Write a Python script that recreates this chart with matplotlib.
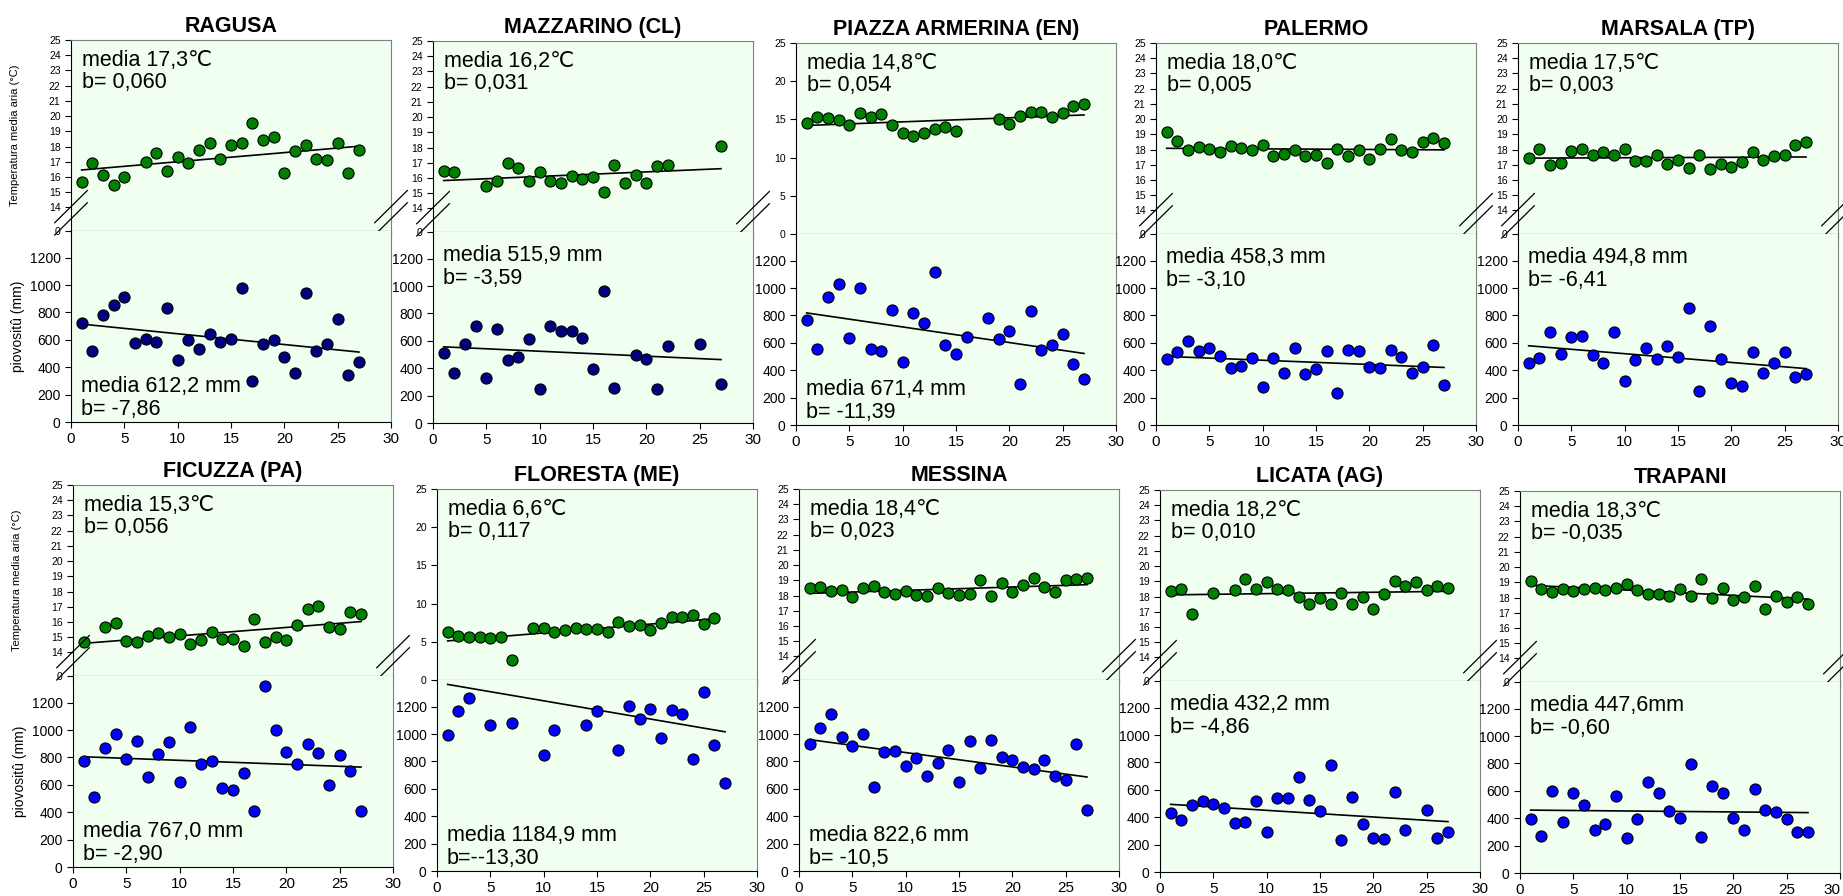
import numpy as np
import matplotlib.pyplot as plt

plt.rcParams['font.family'] = ['Liberation Sans', 'DejaVu Sans']

N = None
anni = list(range(1, 28))

stazioni = ['RAGUSA', 'MAZZARINO (CL)', 'PIAZZA ARMERINA (EN)', 'PALERMO', 'MARSALA (TP)',
            'FICUZZA (PA)', 'FLORESTA (ME)', 'MESSINA', 'LICATA (AG)', 'TRAPANI']

# temperatura media annua (°C)
t_ragusa = [15.7, 16.9, 16.15, 15.5, 16.0, N, 17.0, 17.55, 16.4, 17.3, 16.9, 17.8, 18.2, 17.2, 18.1,
            18.2, 19.55, 18.45, 18.6, 16.25, 17.7, 18.1, 17.2, 17.1, 18.25, 16.25, 17.75]
t_mazzarino = [16.44, 16.38, N, N, 15.44, 15.83, 17.0, 16.64, 15.83, 16.38, 15.83, 15.66, 16.14, 15.94,
               16.05, 15.07, 16.88, 15.68, 16.18, 15.68, 16.77, 16.88, N, N, N, N, 18.13]
t_piazza = [14.55, 15.37, 15.24, 14.9, 14.24, 15.85, 15.33, 15.72, 14.29, 13.28, 12.8, 13.28, 13.72, 14.07,
            13.5, N, N, N, 15.07, 14.37, 15.46, 15.98, 16.03, 15.29, 15.81, 16.77, 17.03]
t_palermo = [19.16, 18.59, 17.97, 18.15, 18.02, 17.87, 18.22, 18.13, 17.97, 18.33, 17.56, 17.71, 17.97, 17.6,
             17.62, 17.14, 18.02, 17.58, 17.97, 17.4, 18.06, 18.66, 17.97, 17.84, 18.52, 18.77, 18.46]
t_marsala = [17.45, 18.06, 16.99, 17.14, 17.89, 18.06, 17.62, 17.84, 17.62, 18.02, 17.23, 17.23, 17.62, 17.07,
             17.29, 16.81, 17.67, 16.75, 17.07, 16.86, 17.18, 17.84, 17.34, 17.58, 17.67, 18.33, 18.48]
t_ficuzza = [14.66, N, 15.7, 15.95, 14.73, 14.71, 15.11, 15.28, 15.02, 15.22, 14.58, 14.82, 15.33, 14.91,
             14.88, 14.4, 16.19, 14.69, 15.0, 14.82, 15.77, 16.85, 17.05, 15.64, 15.53, 16.63, 16.54]
t_floresta = [6.25, 5.81, 5.64, 5.64, 5.55, 5.64, 2.67, N, 6.77, 6.86, 6.29, 6.56, 6.77, 6.69, 6.64, 6.29,
              7.65, 7.12, 7.21, 6.6, 7.52, 8.3, 8.3, 8.52, 7.34, 8.13, N]
t_messina = [18.49, 18.54, 18.32, 18.36, 17.92, 18.49, 18.62, 18.23, 18.1, 18.32, 18.05, 17.99, 18.47, 18.14,
             18.05, 18.1, 19.02, 17.94, 18.8, 18.25, 18.69, 19.17, 18.56, 18.25, 19.0, 19.06, 19.17]
t_licata = [18.35, 18.5, 16.86, N, 18.24, N, 18.46, 19.17, 18.5, 18.95, 18.5, 18.46, 18.0, 17.51, 17.92,
            17.51, 18.24, 17.51, 18.0, 17.19, 18.15, 18.99, 18.67, 18.95, 18.46, 18.67, 18.58]
t_trapani = [19.06, 18.58, 18.34, 18.58, 18.4, 18.56, 18.65, 18.51, 18.65, 18.89, 18.49, 18.21, 18.21, 18.1,
             18.58, 18.1, 19.19, 17.97, 18.62, 17.84, 18.01, 18.78, 17.27, 18.1, 17.68, 18.05, 17.57]

# piovosita annua (mm)
p_ragusa = [722, 516, 778, 856, 916, 577, 608, 587, 829, 451, 596, 533, 642, 587, 608, 977, 298, 567, 599,
            478, 359, 940, 521, 572, 754, 342, 439]
p_mazzarino = [508, 367, 580, 709, 330, 687, 461, 481, 612, 250, 709, 675, 675, 619, 398, 964, 257, N, 495,
               469, 250, 563, N, N, 576, N, 284]
p_piazza = [767, 557, 936, 1029, 638, 1002, 552, 540, 843, 459, 819, 748, 1119, 587, 516, 643, N, 782, 628,
            687, 301, 833, 550, 582, 665, 447, 337]
p_palermo = [479, 531, 611, 543, 565, 504, 419, 431, 492, 280, 492, 382, 565, 370, 406, 540, 231, 548, 538,
             426, 414, 545, 499, 382, 426, 587, 292]
p_marsala = [455, 492, 677, 518, 643, 650, 511, 450, 682, 319, 475, 565, 484, 574, 494, 852, 246, 723, 479,
             307, 285, 531, 377, 453, 533, 348, 370]
p_ficuzza = [771, 512, 866, 971, 788, 922, 659, 822, 912, 620, 1022, 751, 776, 576, 563, 685, 410, 1320, 998,
             841, 749, 900, 832, 602, 817, 702, 410]
p_floresta = [993, 1171, 1263, N, 1064, N, 1083, N, N, 847, 1030, N, N, 1066, 1171, N, 881, 1202, 1112,
              1183, 971, 1173, 1144, 815, 1309, 922, 640]
p_messina = [925, 1042, 1149, 978, 910, 998, 616, 869, 874, 769, 823, 696, 789, 884, 652, 947, 752, 959, 830,
             811, 762, 745, 808, 696, 667, 930, 445]
p_licata = [431, 383, 487, 518, 499, 470, 357, 366, 521, 289, 537, 542, 696, 525, 443, 778, 236, 549, 352,
            248, 239, 586, 304, N, 453, 251, 289]
p_trapani = [396, 270, 598, 372, 581, 496, 313, 357, 561, 257, 398, 661, 581, 454, 401, 799, 260, 639, 581,
             403, 311, 617, 461, 445, 396, 301, 301]

temp = [t_ragusa, t_mazzarino, t_piazza, t_palermo, t_marsala,
        t_ficuzza, t_floresta, t_messina, t_licata, t_trapani]
piog = [p_ragusa, p_mazzarino, p_piazza, p_palermo, p_marsala,
        p_ficuzza, p_floresta, p_messina, p_licata, p_trapani]

# rette di tendenza: intercetta e pendenza
t_a = [16.40, 15.80, 14.15, 18.085, 17.43, 14.54, 5.0, 18.12, 18.10, 18.84]
t_b = [0.060, 0.030, 0.053, -0.004, 0.003, 0.055, 0.116, 0.022, 0.009, -0.035]
p_a = [723, 560, 830, 504, 585, 808, 1376, 970, 499, 460]
p_b = [-7.86, -3.59, -11.39, -3.10, -6.41, -2.90, -13.30, -10.5, -4.86, -0.70]

t_media = ['17,3', '16,2', '14,8', '18,0', '17,5', '15,3', '6,6', '18,4', '18,2', '18,3']
t_btxt = ['0,060', '0,031', '0,054', '0,005', '0,003', '0,056', '0,117', '0,023', '0,010', '-0,035']
p_media = ['612,2 mm', '515,9 mm', '671,4 mm', '458,3 mm', '494,8 mm',
           '767,0 mm', '1184,9 mm', '822,6 mm', '432,2 mm', '447,6mm']
p_btxt = [' -7,86', ' -3,59', ' -11,39', ' -3,10', ' -6,41', ' -2,90', '--13,30', ' -10,5', ' -4,86', ' -0,60']

# asse temperatura spezzato (14-25) oppure intero (0-25)
spezzato = [True, True, False, True, True, True, False, True, True, True]
# posizione testo piovosita: in alto o in basso
p_testo_alto = [False, True, False, True, True, False, False, False, True, True]

W, H = 1843, 896
PW, PH = 320, 191
pos = [(71, 40), (433, 41), (796, 43), (1156, 43), (1518, 43),
       (73, 485), (437, 489), (799, 489), (1160, 490), (1520, 491)]

fig = plt.figure(figsize=(W / 100, H / 100), dpi=100)

def stile(ax):
    ax.set_facecolor('#f0fff0')
    ax.spines['top'].set_color('#808080')
    ax.spines['right'].set_color('#808080')
    ax.tick_params(direction='out', length=4, width=0.8)
    ax.set_xlim(0, 30)
    ax.set_xticks(range(0, 31, 5))

def segni_rottura(ax):
    kw = dict(transform=ax.transAxes, color='black', lw=0.9, clip_on=False, zorder=6)
    for xc in (0, 1):
        for dy in (0.0, 0.064):
            ax.plot([xc - 0.051, xc + 0.051], [-0.021 + dy, 0.148 + dy], **kw)

def tendenza(ax, x, y, a, b):
    ok = [xi for xi, yi in zip(x, y) if yi is not None]
    xs = np.array([min(ok), max(ok)])
    ax.plot(xs, a + b * xs, color='black', lw=1.2, zorder=2)

def punti(ax, x, y, colore):
    xx = [xi for xi, yi in zip(x, y) if yi is not None]
    yy = [yi for yi in y if yi is not None]
    ax.scatter(xx, yy, s=64, c=colore, edgecolors='black', linewidths=0.8, zorder=3)

for i, nome in enumerate(stazioni):
    x0, y0 = pos[i]
    ax_t = fig.add_axes([x0 / W, 1 - (y0 + PH) / H, PW / W, PH / H])
    ax_p = fig.add_axes([x0 / W, 1 - (y0 + 2 * PH) / H, PW / W, PH / H])

    # temperatura
    stile(ax_t)
    ax_t.tick_params(axis='x', labelbottom=False)
    ax_t.tick_params(axis='y', labelsize=7.5)
    if spezzato[i]:
        ax_t.set_ylim(12.45, 25)
        ax_t.set_yticks([12.45] + list(range(14, 26)))
        ax_t.set_yticklabels(['0'] + [str(v) for v in range(14, 26)])
        segni_rottura(ax_t)
    else:
        ax_t.set_ylim(0, 25)
        ax_t.set_yticks(range(0, 26, 5))
    punti(ax_t, anni, temp[i], '#008000')
    tendenza(ax_t, anni, temp[i], t_a[i], t_b[i])
    ax_t.text(0.035, 0.95, f'media {t_media[i]}℃\nb= {t_btxt[i]}', transform=ax_t.transAxes,
              ha='left', va='top', fontsize=15.5, linespacing=1.1)
    ax_t.set_title(nome, fontsize=15.5, fontweight='bold', pad=6)

    # piovosita
    stile(ax_p)
    ax_p.spines['top'].set_visible(False)
    ax_p.set_ylim(0, 1395)
    ax_p.set_yticks(range(0, 1201, 200))
    ax_p.tick_params(axis='y', labelsize=10)
    ax_p.tick_params(axis='x', labelsize=11)
    colore_p = '#000080' if i < 2 else '#0000ff'
    punti(ax_p, anni, piog[i], colore_p)
    tendenza(ax_p, anni, piog[i], p_a[i], p_b[i])
    testo = f'media {p_media[i]}\nb={p_btxt[i]}'
    if p_testo_alto[i]:
        ax_p.text(0.03, 0.93, testo, transform=ax_p.transAxes, ha='left', va='top',
                  fontsize=15.5, linespacing=1.1)
    else:
        ax_p.text(0.03, 0.01, testo, transform=ax_p.transAxes, ha='left', va='bottom',
                  fontsize=15.5, linespacing=1.1)

    if i % 5 == 0:
        ax_t.set_ylabel('Temperatura media aria (°C)', fontsize=8)
        ax_t.yaxis.set_label_coords(-0.16, 0.5)
        ax_p.set_ylabel('piovositû (mm)', fontsize=10)
        ax_p.yaxis.set_label_coords(-0.145, 0.5)

    if i == len(stazioni) - 1:
        # ultima etichetta al bordo della figura
        ax_p.get_xticklabels()[-1].set_horizontalalignment('right')

fig.savefig('out.png', dpi=100, facecolor='white')
